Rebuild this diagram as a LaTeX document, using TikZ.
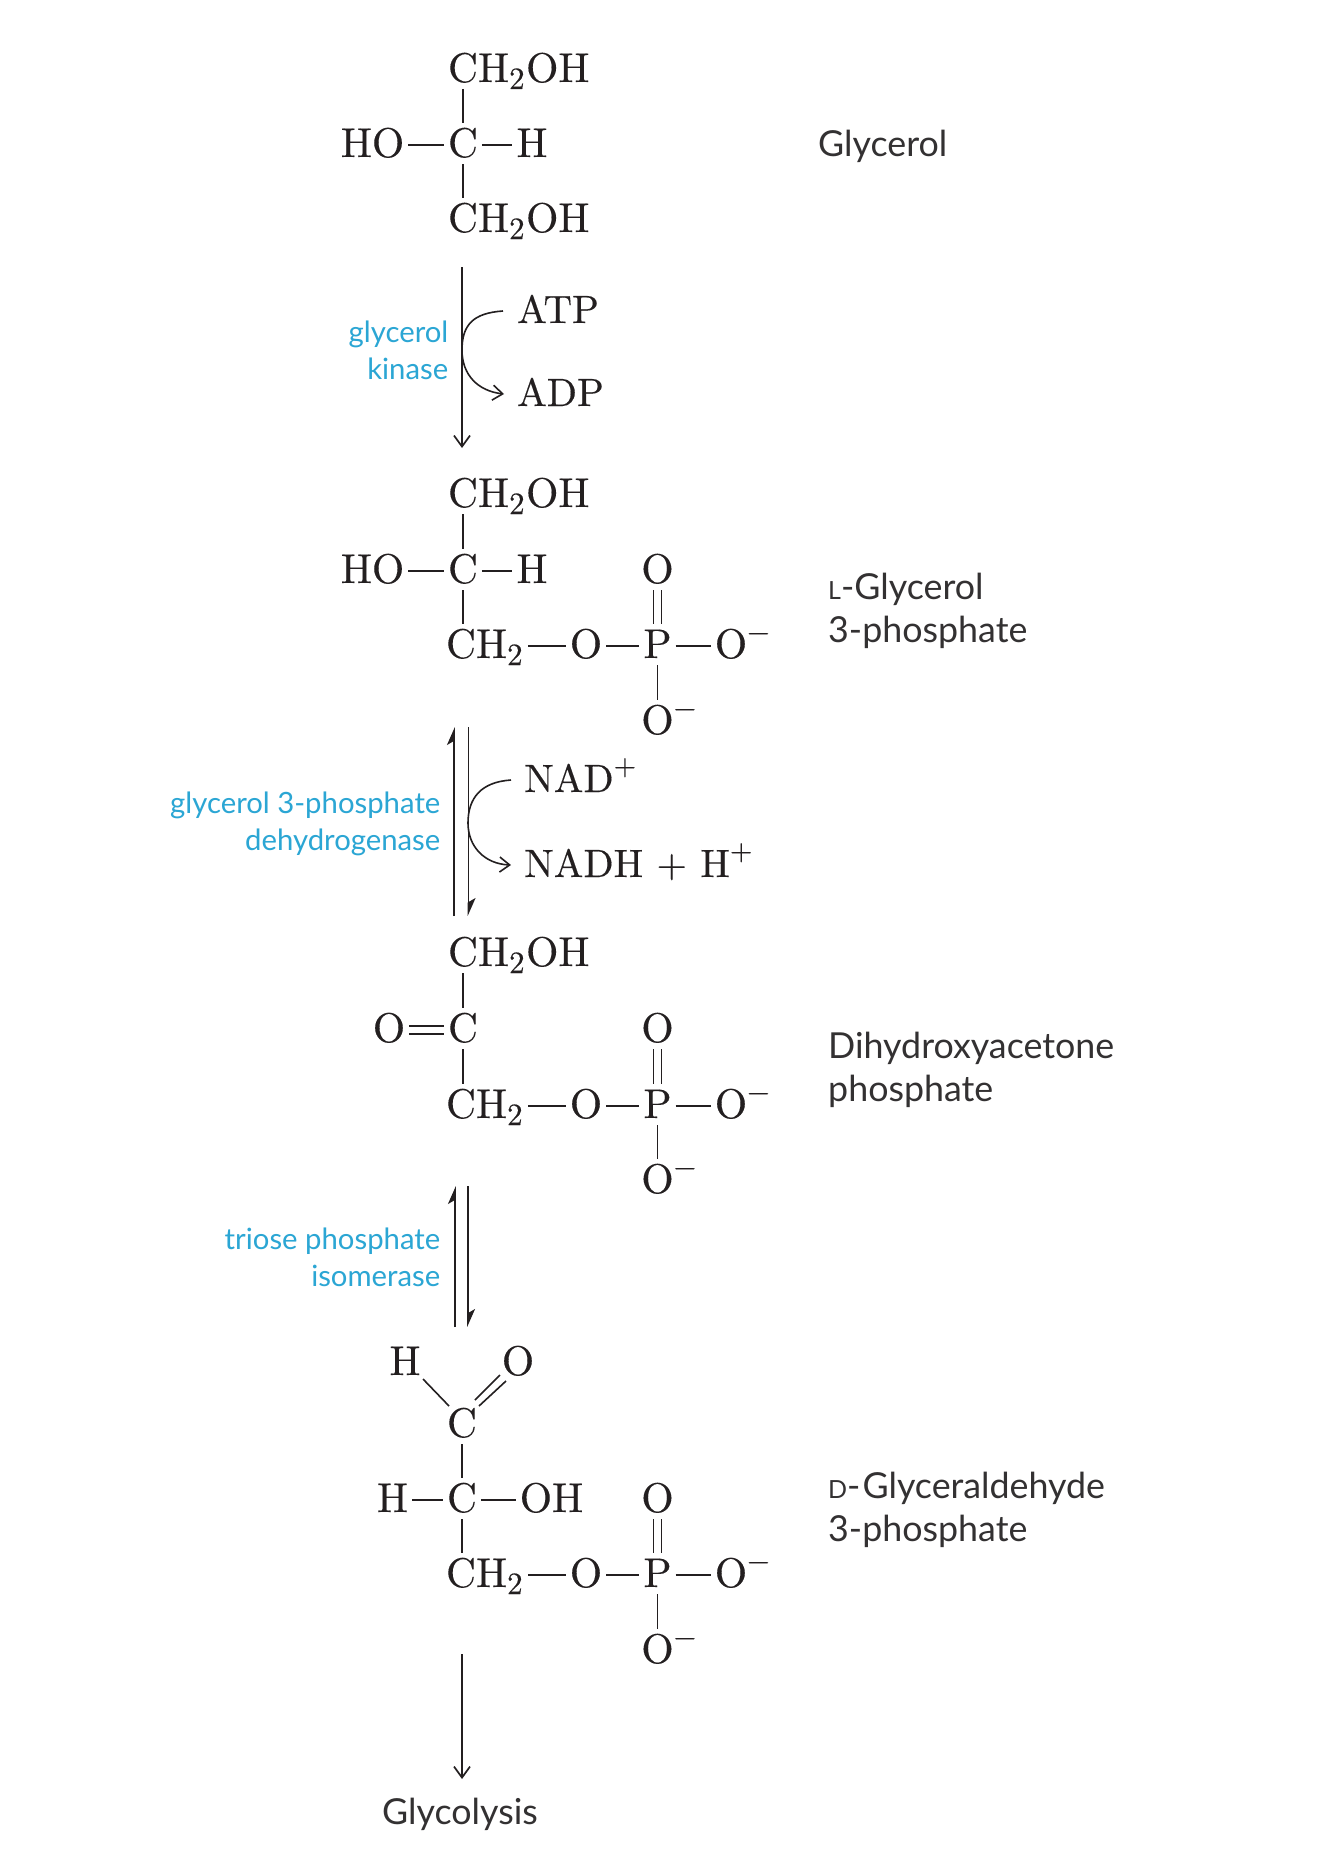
\documentclass[tikz,border=0pt]{standalone}
\usepackage{fontspec}
\usetikzlibrary{arrows.meta,calc}
\newfontfamily\labfont{Lato}
\newfontfamily\chemfont[Extension=.otf,FakeBold=0.25]{lmroman10-regular}
\definecolor{inkc}{HTML}{231F20}
\definecolor{namec}{HTML}{333132}
\definecolor{enzc}{HTML}{2BA6D4}
\newcommand\molsub[1]{\raisebox{-7pt}{\fontsize{31}{31}\selectfont #1}\kern1.5pt}
\newcommand\molsup[1]{\raisebox{17pt}{\fontsize{29}{29}\selectfont #1}}
\tikzset{
  atom/.style={inner sep=0pt,outer sep=0pt,anchor=base,text height=30pt,text depth=6pt,text=inkc,font=\chemfont\fontsize{41.5}{41.5}\selectfont},
  tail/.style={atom,anchor=base west},
  vbond/.style={draw=inkc,line width=1.6pt,shorten <=1pt,shorten >=4pt},
  hbond/.style={draw=inkc,line width=1.6pt,shorten <=4pt,shorten >=4pt},
  dbond/.style={draw=inkc,line width=1.6pt},
  rxn/.style={draw=inkc,line width=1.7pt,-{Straight Barb[length=11pt,width=16pt,line width=1.7pt]}},
  halfarrow/.style={draw=inkc,line width=1.7pt,-{Stealth[harpoon,length=16pt,width=14pt,inset=4pt]}},
  cofarrow/.style={draw=inkc,line width=1.6pt,-{Straight Barb[length=10pt,width=15pt,line width=1.6pt]}},
  cofline/.style={draw=inkc,line width=1.6pt},
  enz/.style={inner sep=0pt,anchor=base east,text=enzc,font=\labfont\fontsize{29.3}{29.3}\selectfont},
  mname/.style={inner sep=0pt,anchor=base west,text=namec,font=\labfont\fontsize{35.8}{35.8}\selectfont},
  cof/.style={inner sep=0pt,anchor=base west,text=inkc,text height=30pt,text depth=6pt,font=\chemfont\fontsize{39.5}{39.5}\selectfont},
}
% phosphate tail: prefix, top O baseline, row baseline, bottom O baseline
\newcommand\phosgroup[4]{
  \node[atom] (#1c) at (461,#3) {C};
  \node[tail] (#1h) at (#1c.base east) {H\molsub{2}};
  \node[atom] (#1o) at (586,#3) {O};
  \node[atom] (#1p) at (657.5,#3) {P};
  \node[atom] (#1on) at (731,#3) {O};
  \node[tail] (#1onm) at (#1on.base east) {\molsup{−}};
  \node[atom] (#1ot) at (657.5,#2) {O};
  \node[atom] (#1ob) at (657.5,#4) {O};
  \node[tail] (#1obm) at (#1ob.base east) {\molsup{−}};
  \draw[hbond] (#1h.east) -- (#1o.west);
  \draw[hbond] (#1o.east) -- (#1p.west);
  \draw[hbond] (#1p.east) -- (#1on.west);
  \draw[vbond] ([xshift=-4pt]#1ot.south) -- ([xshift=-4pt]#1p.north);
  \draw[vbond] ([xshift=4pt]#1ot.south) -- ([xshift=4pt]#1p.north);
  \draw[vbond] (#1p.south) -- (#1ob.north);
}
\begin{document}
\begin{tikzpicture}[x=1pt,y=-1pt]
\useasboundingbox[fill=white] (0,0) rectangle (1334,1865);

% Glycerol
\node[atom] (a1c) at (463,82) {C};
\node[tail] (a1t) at (a1c.base east) {H\molsub{2}OH};
\node[atom] (a2c) at (463,157) {C};
\node[atom] (a2l) at (372.5,157) {HO};
\node[atom] (a2r) at (532,157) {H};
\node[atom] (a3c) at (463,232) {C};
\node[tail] (a3t) at (a3c.base east) {H\molsub{2}OH};
\draw[vbond] (a1c.south) -- (a2c.north);
\draw[vbond] (a2c.south) -- (a3c.north);
\draw[hbond] (a2l.east) -- (a2c.west);
\draw[hbond] (a2c.east) -- (a2r.west);
\node[mname] (n1) at (818,156) {Glycerol};

% kinase step
\coordinate (k0) at (462,267);
\coordinate (k1) at (462,448);
\draw[rxn] (k0) -- (k1);
\node[cof] (atp) at (517,323) {ATP};
\node[cof] (adp) at (517,406) {ADP};
\coordinate (kb) at (462,350);
\draw[cofline] ([xshift=-14pt]atp.west) .. controls +(-30,2) and (462,325) .. (kb);
\draw[cofarrow] (kb) .. controls (462,375) and (478,391) .. ([xshift=-13pt]adp.west);
\node[enz] (e1a) at (448.5,342) {glycerol};
\node[enz] (e1b) at (448.5,379) {kinase};

% L-glycerol 3-phosphate
\node[atom] (b1c) at (463,507) {C};
\node[tail] (b1t) at (b1c.base east) {H\molsub{2}OH};
\node[atom] (b2c) at (463,583) {C};
\node[atom] (b2l) at (372.5,583) {HO};
\node[atom] (b2r) at (532,583) {H};
\phosgroup{b}{583}{658}{734}
\draw[vbond] (b1c.south) -- (b2c.north);
\draw[vbond] (b2c.south) -- (b2c.south |- bc.north);
\draw[hbond] (b2l.east) -- (b2c.west);
\draw[hbond] (b2c.east) -- (b2r.west);
\node[mname] (n2a) at (828,599) {{\fontsize{25}{25}\selectfont L}-Glycerol};
\node[mname] (n2b) at (828,642) {3-phosphate};

% dehydrogenase step
\coordinate (d0) at (454,916);
\coordinate (d1) at (454,727);
\coordinate (d2) at (468.5,727);
\coordinate (d3) at (468.5,916);
\draw[halfarrow] (d0) -- (d1);
\draw[halfarrow] (d2) -- (d3);
\node[cof] (nad) at (524,792) {NAD\molsup{+}};
\node[cof] (nadh) at (524,877) {NADH + H\molsup{+}};
\coordinate (db) at (468,823);
\draw[cofline] ([xshift=-13pt]nad.west) .. controls +(-30,2) and (468,798) .. (db);
\draw[cofarrow] (db) .. controls (468,847) and (485,864) .. ([xshift=-13pt]nadh.west);
\node[enz] (e2a) at (440.5,813) {glycerol 3-phosphate};
\node[enz] (e2b) at (440.5,850) {dehydrogenase};

% DHAP
\node[atom] (c1c) at (463,966) {C};
\node[tail] (c1t) at (c1c.base east) {H\molsub{2}OH};
\node[atom] (c2c) at (463,1042) {C};
\node[atom] (c2l) at (389,1042) {O};
\phosgroup{c}{1042}{1118}{1193}
\draw[vbond] (c1c.south) -- (c2c.north);
\draw[vbond] (c2c.south) -- (c2c.south |- cc.north);
\draw[hbond] ([yshift=-4pt]c2l.east) -- ([yshift=-4pt]c2c.west);
\draw[hbond] ([yshift=4pt]c2l.east) -- ([yshift=4pt]c2c.west);
\node[mname] (n3a) at (828,1058) {Dihydroxyacetone};
\node[mname] (n3b) at (828,1101) {phosphate};

% isomerase step
\coordinate (t0) at (455,1327);
\coordinate (t1) at (455,1186);
\coordinate (t2) at (468,1186);
\coordinate (t3) at (468,1327);
\draw[halfarrow] (t0) -- (t1);
\draw[halfarrow] (t2) -- (t3);
\node[enz] (e3a) at (440.5,1249) {triose phosphate};
\node[enz] (e3b) at (440.5,1286) {isomerase};

% D-glyceraldehyde 3-phosphate
\node[atom] (g1h) at (405,1375) {H};
\node[atom] (g1o) at (518,1375) {O};
\node[atom] (g2c) at (462,1437) {C};
\node[atom] (g3c) at (462,1512) {C};
\node[atom] (g3l) at (392.5,1512) {H};
\node[atom] (g3r) at (551.5,1512) {OH};
\phosgroup{g}{1512}{1587}{1663}
\draw[dbond] ([shift={(18,16)}]g1h.center) -- ([shift={(-13,-19)}]g2c.center);
\draw[dbond] ([shift={(13,-25)}]g2c.center) -- ([shift={(-18,12)}]g1o.center);
\draw[dbond] ([shift={(17,-19)}]g2c.center) -- ([shift={(-12,18)}]g1o.center);
\draw[vbond] (g2c.south) -- (g3c.north);
\draw[vbond] (g3c.south) -- (g3c.south |- gc.north);
\draw[hbond] (g3l.east) -- (g3c.west);
\draw[hbond] (g3c.east) -- (g3r.west);
\node[mname] (n4a) at (828,1498) {{\fontsize{25}{25}\selectfont D}-\kern2ptGlyceraldehyde};
\node[mname] (n4b) at (828,1541) {3-phosphate};

% to glycolysis
\coordinate (z0) at (462,1654);
\coordinate (z1) at (462,1779);
\draw[rxn] (z0) -- (z1);
\node[mname,anchor=base] (n5) at (460,1824) {Glycolysis};
\end{tikzpicture}
\end{document}
